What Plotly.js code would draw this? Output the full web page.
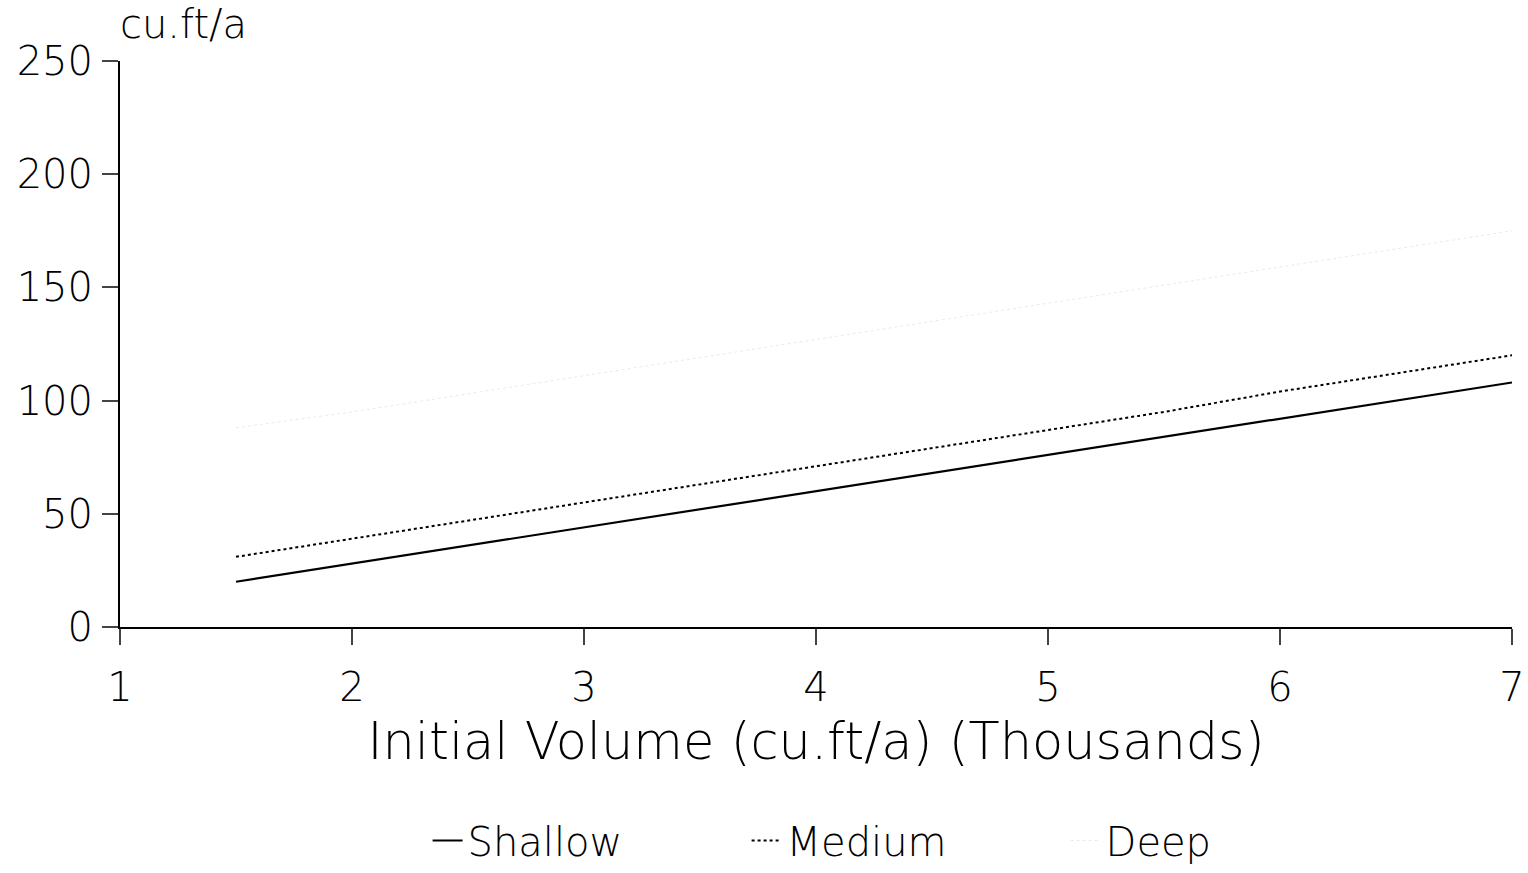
<!DOCTYPE html>
<html><head><meta charset="utf-8">
<script src="https://cdn.plot.ly/plotly-3.0.1.min.js"></script>
<style>html,body{margin:0;padding:0;background:#fff}#chart{width:1528px;height:873px}</style>
</head><body><div id="chart"></div>
<script>
const volume = [1.5, 2, 2.5, 3, 3.5, 4, 4.5, 5, 5.5, 6, 6.5, 7];
const shallow = [20, 28, 36, 44, 52, 60, 68, 76, 84, 92, 100, 108];
const medium = [31, 39, 47, 55, 63, 71, 79, 87, 95, 104, 112, 120];
const deep = [88, 95, 103, 111, 119, 127, 135, 143, 151, 159, 167, 175];
const seriesNames = ['Shallow', 'Medium', 'Deep'];
const xTicks = [1, 2, 3, 4, 5, 6, 7];
const yTicks = [0, 50, 100, 150, 200, 250];

const font = 'DejaVu Sans, Arial, sans-serif';
const traces = [
  {x: volume, y: shallow, name: seriesNames[0], mode: 'lines', line: {color: '#000', width: 2.2, dash: 'solid'}},
  {x: volume, y: medium, name: seriesNames[1], mode: 'lines', line: {color: '#000', width: 2, dash: 'dot'}},
  {x: volume, y: deep, name: seriesNames[2], mode: 'lines', line: {color: 'rgba(170,170,170,0.25)', width: 1, dash: 'dot'}}
];
const layout = {
  width: 1528, height: 873,
  margin: {l: 120, r: 16, t: 61, b: 246},
  paper_bgcolor: '#fff', plot_bgcolor: '#fff',
  font: {family: font, color: '#000'},
  showlegend: true,
  legend: {orientation: 'h', xref: 'container', yref: 'container', x: 0.593, xanchor: 'center',
           y: 0, yanchor: 'bottom', font: {size: 40, family: font, weight: 300},
           entrywidth: 274, tracegroupgap: 0, borderwidth: 0},
  xaxis: {range: [1, 7], tickvals: xTicks, ticks: 'outside', ticklen: 16, tickwidth: 2,
          showline: true, linecolor: '#000', linewidth: 2, showgrid: false, zeroline: false,
          automargin: false,
          tickfont: {size: 40, family: font, weight: 300}, ticklabelstandoff: 8,
          title: {text: 'Initial Volume (cu.ft/a) (Thousands)', font: {size: 51, family: font, weight: 300}, standoff: 14}},
  yaxis: {range: [0, 250], tickvals: yTicks, ticks: 'outside', ticklen: 16, tickwidth: 2,
          showline: true, linecolor: '#000', linewidth: 2, showgrid: false, zeroline: false,
          automargin: false,
          tickfont: {size: 40, family: font, weight: 300}, ticklabelstandoff: 1},
  annotations: [{text: 'cu.ft/a', xref: 'paper', yref: 'paper', x: 0, y: 1, xshift: -2, yshift: 12,
                 xanchor: 'left', yanchor: 'bottom', showarrow: false, font: {size: 40, family: font, weight: 300}}]
};
Plotly.newPlot('chart', traces, layout, {displayModeBar: false, staticPlot: true});
</script></body></html>
